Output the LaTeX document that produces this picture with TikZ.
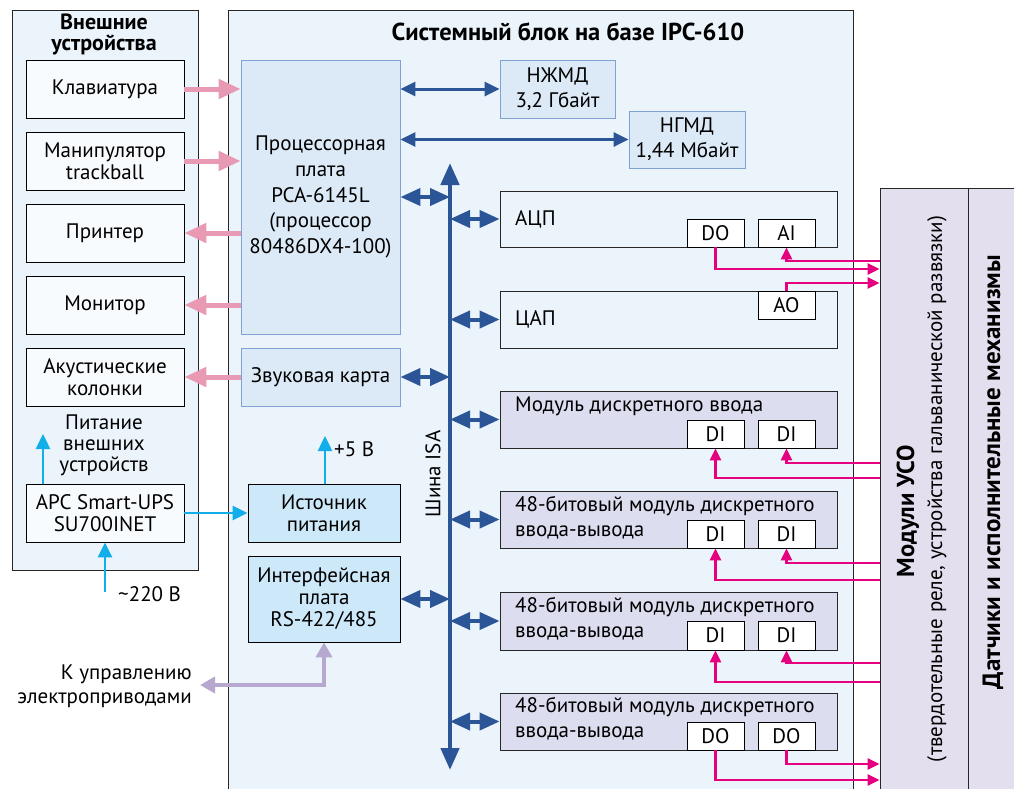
\documentclass[tikz,border=0pt]{standalone}
\usepackage{fontspec}
\setmainfont{PT Sans}
\usetikzlibrary{arrows.meta,calc}
\definecolor{panel}{HTML}{EBF3FB}
\definecolor{innerc}{HTML}{F8FBFE}
\definecolor{procfill}{HTML}{DCE9F6}
\definecolor{procdraw}{HTML}{7FA2D3}
\definecolor{psfill}{HTML}{CDE8F9}
\definecolor{modfill}{HTML}{DCDEF0}
\definecolor{usofill}{HTML}{E4DFEE}
\definecolor{busblue}{HTML}{2B5597}
\definecolor{pinkc}{HTML}{E89AB5}
\definecolor{cyanc}{HTML}{12AEEA}
\definecolor{purc}{HTML}{B7A8CF}
\definecolor{magc}{HTML}{E4007F}
\newcommand\fs{\fontsize{21}{22}\selectfont}
\newcommand\bx[7]{\node[#6, minimum width={(#4-#2)*1pt}, minimum height={(#5-#3)*1pt}] (#1) at ({(#2+#4)/2},{(#3+#5)/2}) {#7};}
\tikzset{
  base/.style={inner sep=0pt, align=center, font=\fs},
  panelbox/.style={base, draw=black!85, line width=0.8pt, fill=panel},
  whitebox/.style={base, draw=black, line width=0.8pt, fill=innerc},
  procbox/.style={base, draw=procdraw, line width=0.8pt, fill=procfill},
  psbox/.style={base, draw=black, line width=0.8pt, fill=psfill},
  modbox/.style={base, draw=black!85, line width=0.8pt, fill=modfill},
  sysmod/.style={base, draw=black!85, line width=0.8pt, fill=panel},
  chbox/.style={base, draw=black, line width=0.8pt, fill=white},
  usobox/.style={base, draw=black!85, line width=0.8pt, fill=usofill},
  txt/.style={inner sep=0pt, font=\fs},
  pk/.style={pinkc, line width=5pt, -{Triangle[length=22pt,width=19pt]}},
  dblue/.style={busblue, line width=3pt, {Triangle[length=15pt,width=14pt]}-{Triangle[length=15pt,width=14pt]}},
  bm/.style={busblue, line width=4pt, {Triangle[length=20pt,width=17pt]}-{Triangle[length=20pt,width=17pt]}},
  busline/.style={busblue, line width=4.5pt, {Triangle[length=22pt,width=18pt]}-{Triangle[length=22pt,width=18pt]}},
  cy/.style={cyanc, line width=2.5pt, -{Triangle[length=15pt,width=14pt]}},
  pu/.style={purc, line width=4.5pt, {Triangle[length=15pt,width=16pt]}-{Triangle[length=15pt,width=16pt]}},
  mg/.style={magc, line width=2.4pt, -{Triangle[length=12pt,width=11pt]}},
}
\begin{document}
\begin{tikzpicture}[x=1pt,y=-1pt]
\useasboundingbox (0,0) rectangle (1014,788);
\clip (0,0) rectangle (1014,788);
% left panel
\bx{ext}{12}{10}{198}{570}{panelbox}{}
\node[font=\bfseries\fontsize{22}{21}\selectfont, align=center, inner sep=0pt] (extt) at (104,34) {Внешние\\устройства};
\bx{klav}{26}{60}{184}{118}{whitebox}{Клавиатура}
\bx{man}{26}{132}{184}{190}{whitebox}{Манипулятор\\trackball}
\bx{prn}{26}{204}{184}{262}{whitebox}{Принтер}
\bx{mon}{26}{276}{184}{334}{whitebox}{Монитор}
\bx{kol}{26}{348}{184}{406}{whitebox}{Акустические\\колонки}
\bx{ups}{26}{484}{184}{542}{whitebox}{APC Smart-UPS\\SU700INET}
\node[txt, align=center, font=\fontsize{21}{21}\selectfont] (pitt) at (104,445) {Питание\\внешних\\устройств};
\coordinate (pw) at (43,434);
\coordinate (ac) at (105,592);
\node[txt, anchor=west] (v220) at (118,594) {\textasciitilde220 В};
% system block
\bx{sys}{228}{10}{853}{800}{panelbox}{}
\node[txt, font=\bfseries\fontsize{24.5}{26}\selectfont] (syst) at (568,32) {Системный блок на базе IPC-610};
\bx{proc}{241}{60}{400}{334}{procbox, font=\fontsize{21}{25.7}\selectfont}{Процессорная\\плата\\PCA-6145L\\(процессор\\80486DX4-100)}
\bx{snd}{241}{348}{400}{406}{procbox}{Звуковая карта}
\bx{ps}{248}{484}{400}{542}{psbox}{Источник\\питания}
\bx{intf}{248}{556}{400}{642}{psbox}{Интерфейсная\\плата\\RS-422/485}
\bx{njmd}{500}{60}{615}{118}{procbox, font=\fontsize{21}{25}\selectfont}{НЖМД\\3,2 Гбайт}
\bx{ngmd}{629}{111}{745}{168}{procbox, font=\fontsize{21}{25}\selectfont}{НГМД\\1,44 Мбайт}
% modules
\bx{adc}{500}{191}{837}{247}{sysmod}{}
\node[txt, anchor=west] (adct) at (515,219) {АЦП};
\bx{adcdo}{687}{219}{744}{247}{chbox}{DO}
\bx{adcai}{758}{219}{815}{247}{chbox}{AI}
\bx{dac}{500}{291}{837}{348}{sysmod}{}
\node[txt, anchor=west] (dact) at (515,319) {ЦАП};
\bx{dacao}{758}{291}{815}{319}{chbox}{AO}
\bx{mdi}{500}{391}{837}{448}{modbox}{}
\node[txt, anchor=west] (mdit) at (515,406) {Модуль дискретного ввода};
\bx{mdia}{687}{420}{744}{448}{chbox}{DI}
\bx{mdib}{758}{420}{815}{448}{chbox}{DI}
\bx{ma}{500}{491}{837}{548}{modbox}{}
\node[txt, anchor=west] (mata) at (515,506) {48-битовый модуль дискретного};
\node[txt, anchor=west] (matb) at (515,532) {ввода-вывода};
\bx{maa}{687}{520}{744}{548}{chbox}{DI}
\bx{mab}{758}{520}{815}{548}{chbox}{DI}
\bx{mb}{500}{592}{837}{650}{modbox}{}
\node[txt, anchor=west] (mbta) at (515,607) {48-битовый модуль дискретного};
\node[txt, anchor=west] (mbtb) at (515,633) {ввода-вывода};
\bx{mba}{687}{621}{744}{650}{chbox}{DI}
\bx{mbb}{758}{621}{815}{650}{chbox}{DI}
\bx{mc}{500}{693}{837}{750}{modbox}{}
\node[txt, anchor=west] (mcta) at (515,707) {48-битовый модуль дискретного};
\node[txt, anchor=west] (mctb) at (515,733) {ввода-вывода};
\bx{mca}{687}{722}{744}{750}{chbox}{DO}
\bx{mcb}{758}{722}{815}{750}{chbox}{DO}
% USO and sensors
\bx{uso}{880}{188}{968}{800}{usobox}{}
\bx{dat}{968}{188}{1030}{800}{usobox}{}
\node[txt, rotate=90, font=\bfseries\fontsize{24.5}{26}\selectfont] (usot) at (908,511) {Модули УСО};
\node[txt, rotate=90] (usos) at (937,489) {(твердотельные реле, устройства гальванической развязки)};
\node[txt, rotate=90, font=\bfseries\fontsize{25}{26}\selectfont] (datt) at (993,472) {Датчики и исполнительные механизмы};
% bus
\coordinate (bt) at (450,163);
\coordinate (bb) at (450,770);
\draw[busline] (bt) -- (bb);
\node[txt, rotate=90] (bust) at (433,474) {Шина ISA};
% pink arrows
\draw[pk] (klav.east) -- (klav.east -| proc.west);
\draw[pk] (man.east) -- (man.east -| proc.west);
\draw[pk] (prn.east -| proc.west) -- (prn.east);
\draw[pk] (mon.east -| proc.west) -- (mon.east);
\draw[pk] (snd.west) -- (snd.west -| kol.east);
% blue arrows
\draw[dblue] (proc.east |- njmd.west) -- (njmd.west);
\draw[dblue] (proc.east |- ngmd.west) -- (ngmd.west);
\draw[bm] (proc.east) -- (bt |- proc.east);
\draw[bm] (snd.east) -- (bt |- snd.east);
\draw[bm] (intf.east) -- (bt |- intf.east);
\draw[bm] (bt |- adc.west) -- (adc.west);
\draw[bm] (bt |- dac.west) -- (dac.west);
\draw[bm] (bt |- mdi.west) -- (mdi.west);
\draw[bm] (bt |- ma.west) -- (ma.west);
\draw[bm] (bt |- mb.west) -- (mb.west);
\draw[bm] (bt |- mc.west) -- (mc.west);
% cyan
\draw[cy] (ups.north -| pw) -- (pw);
\draw[cy] (ac) -- (ac |- ups.south);
\draw[cy] (ups.east) -- (ups.east -| ps.west);
\coordinate (p5) at (325,436);
\draw[cy] (ps.north -| p5) -- (p5);
\node[txt, anchor=west] (p5t) at (334,449) {+5 В};
% purple
\coordinate (kt) at (200,685);
\draw[pu] (kt) -| (intf.south);
\node[txt, align=right, anchor=east, font=\fontsize{21}{24}\selectfont] (ktt) at (192,686) {К управлению\\электроприводами};
% magenta
\draw[mg] (adcdo.south) |- (uso.west |- 0,269);
\draw[mg] (uso.west |- 0,261) -| (adcai.south);
\draw[mg] (dacao.north) |- (uso.west |- 0,283);
\draw[mg] (uso.west |- 0,463) -| (mdib.south);
\draw[mg] (uso.west |- 0,478) -| (mdia.south);
\draw[mg] (uso.west |- 0,563) -| (mab.south);
\draw[mg] (uso.west |- 0,580) -| (maa.south);
\draw[mg] (uso.west |- 0,663) -| (mbb.south);
\draw[mg] (uso.west |- 0,682) -| (mba.south);
\draw[mg] (mcb.south) |- (uso.west |- 0,764);
\draw[mg] (mca.south) |- (uso.west |- 0,780);
\end{tikzpicture}
\end{document}
